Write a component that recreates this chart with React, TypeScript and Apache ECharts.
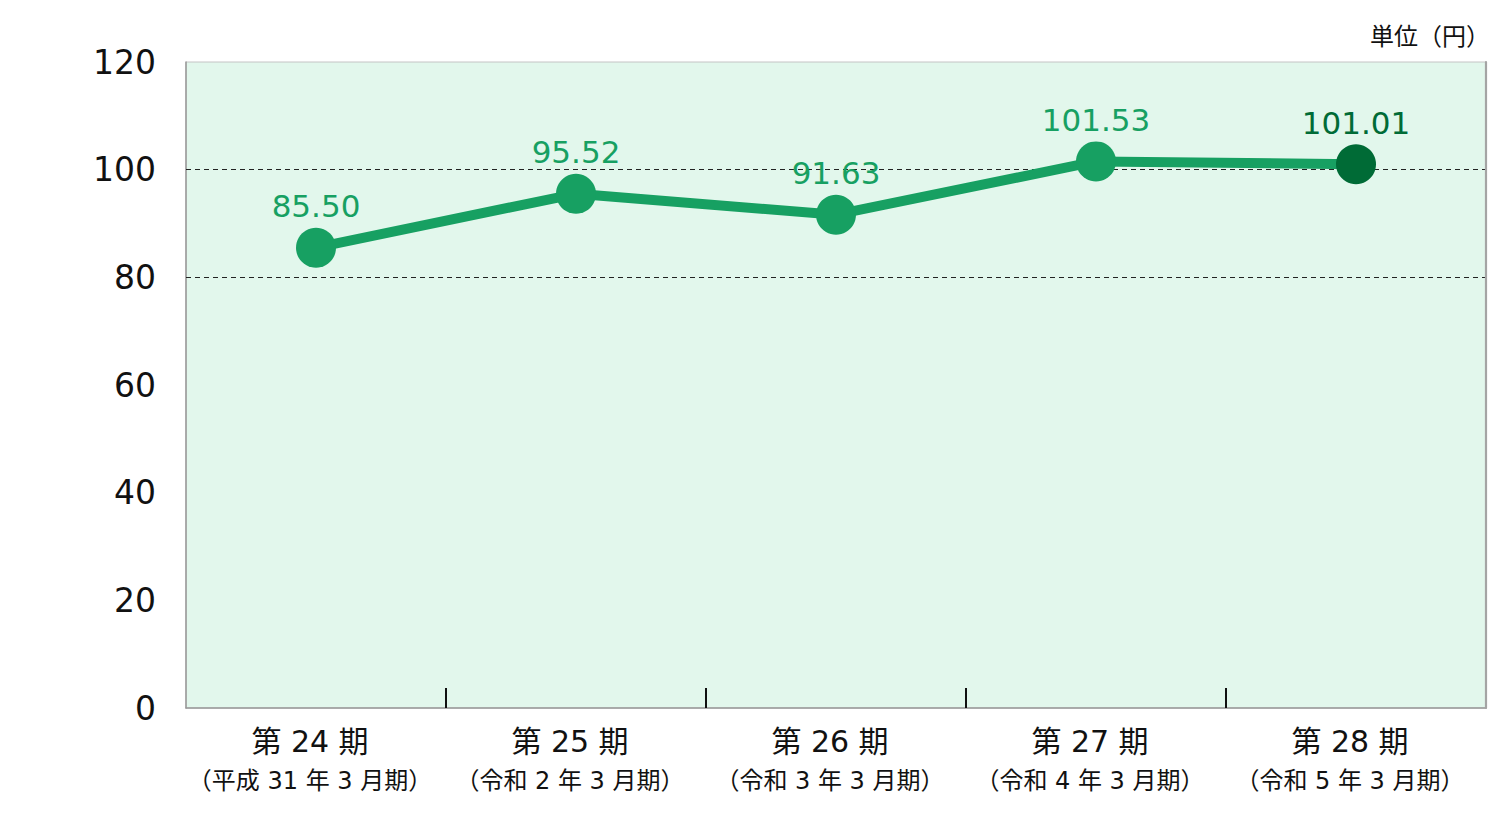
import React, { useEffect, useRef } from "react";
import * as echarts from "echarts";

const periods = ["第 24 期", "第 25 期", "第 26 期", "第 27 期", "第 28 期"];
const subLabels = [
  "（平成 31 年 3 月期）",
  "（令和 2 年 3 月期）",
  "（令和 3 年 3 月期）",
  "（令和 4 年 3 月期）",
  "（令和 5 年 3 月期）",
];
const values = [85.5, 95.52, 91.63, 101.53, 101.01];
const gridValues = [80, 100];
const unitLabel = "単位（円）";

const GREEN = "#17a062";
const DARK = "#006b36";
const FONT = "'DejaVu Sans', 'Noto Sans CJK JP', sans-serif";

export default function App() {
  const ref = useRef<HTMLDivElement>(null);
  useEffect(() => {
    if (!ref.current) return;
    const chart = echarts.init(ref.current, undefined, { renderer: "svg" });
    const last = values.length - 1;
    chart.setOption({
      animation: false,
      textStyle: { fontFamily: FONT },
      grid: {
        left: 178,
        right: 6,
        top: 54,
        bottom: 124,
        show: true,
        backgroundColor: "#e2f7ec",
        borderColor: "#c4c4c4",
        borderWidth: 1,
      },
      graphic: [
        {
          type: "text",
          right: 2,
          top: 17,
          style: { text: unitLabel, fontSize: 24, fill: "#111", fontFamily: FONT },
        },
      ],
      xAxis: {
        type: "category",
        data: periods.map((p, i) => p + "\n" + subLabels[i]),
        boundaryGap: true,
        z: 1,
        axisLine: { show: true, lineStyle: { color: "#999", width: 1.5 } },
        axisTick: {
          show: true,
          inside: true,
          length: 20,
          interval: (i: number) => i !== 0,
          lineStyle: { color: "#111", width: 2 },
        },
        axisLabel: {
          margin: 13,
          padding: [0, 12, 0, 0],
          formatter: (v: string) => {
            const [a, b] = v.split("\n");
            return "{a|" + a + "}\n{b|" + b + "}";
          },
          rich: {
            a: { fontSize: 30, lineHeight: 40, color: "#111", fontFamily: FONT },
            b: { fontSize: 24, lineHeight: 40, color: "#111", fontFamily: FONT },
          },
        },
      },
      yAxis: [
        {
          type: "value",
          min: 0,
          max: 120,
          interval: 20,
          axisLine: { show: true, lineStyle: { color: "#999", width: 1.5 } },
          axisTick: { show: false },
          splitLine: { show: false },
          axisLabel: { fontSize: 33, color: "#111", margin: 30, fontFamily: FONT },
        },
        {
          type: "value",
          position: "right",
          min: 0,
          max: 120,
          interval: 20,
          z: 4,
          axisLine: { show: true, lineStyle: { color: "#a4a4a4", width: 2.2 } },
          axisTick: { show: false },
          splitLine: { show: false },
          axisLabel: { show: false },
        },
      ],
      series: [
        {
          type: "line",
          yAxisIndex: 0,
          data: values.map((v, i) =>
            i === last
              ? {
                  value: v,
                  itemStyle: { color: DARK },
                  label: { color: DARK },
                }
              : v
          ),
          lineStyle: { color: GREEN, width: 10 },
          itemStyle: { color: GREEN },
          symbol: "circle",
          symbolSize: 40,
          z: 5,
          label: {
            show: true,
            position: "top",
            distance: 6,
            fontSize: 31,
            color: GREEN,
            fontFamily: FONT,
            formatter: (p: any) => Number(p.value).toFixed(2),
          },
          markLine: {
            silent: true,
            symbol: "none",
            label: { show: false },
            lineStyle: { color: "#222", type: [5, 4], width: 1 },
            z: 1,
            data: gridValues.map((g) => ({ yAxis: g })),
          },
        },
      ],
    });
    return () => chart.dispose();
  }, []);
  return <div ref={ref} style={{ width: 1484, height: 824 }} />;
}
